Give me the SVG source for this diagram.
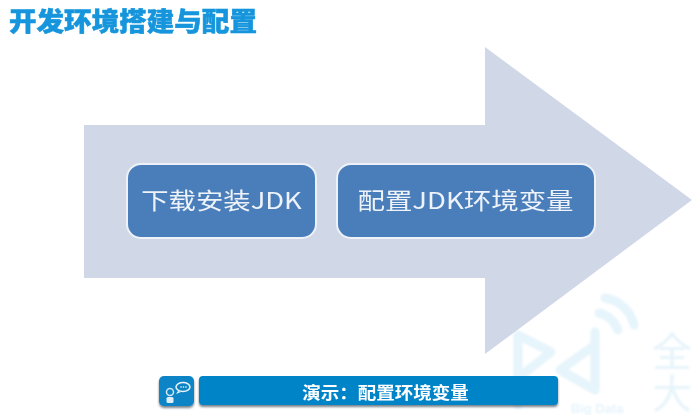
<svg xmlns="http://www.w3.org/2000/svg" width="692" height="415" viewBox="0 0 692 415">
<style>
text{font-family:"Noto Sans CJK SC","Liberation Sans",sans-serif}
.node{fill:#4a7ebb;stroke:#eef2f8;stroke-width:2}
.nt{font-size:23px;fill:#eef3f9;text-anchor:middle}
.wm{fill:none;stroke:#e6f4fb;stroke-width:9;stroke-linejoin:round;stroke-linecap:round}
.wt{fill:#e6f4fb;text-anchor:middle}
</style>
<defs>
<filter id="soft" x="-5%" y="-20%" width="110%" height="140%"><feGaussianBlur stdDeviation="0.5"/></filter>
<filter id="wmblur" x="-5%" y="-5%" width="110%" height="110%"><feGaussianBlur stdDeviation="0.8"/></filter>
<filter id="shadow" x="-5%" y="-20%" width="110%" height="150%"><feDropShadow dx="0" dy="2" stdDeviation="1.2" flood-color="#33424d" flood-opacity="0.65"/></filter>
</defs>
<rect width="692" height="415" fill="#ffffff"/>
<g id="watermark" filter="url(#wmblur)">
<path class="wm" d="M518 335L551 352L518 378Z M518 378V405"/>
<path class="wm" d="M595 332V390L560 370L595 345"/>
<path class="wm" d="M599 313C608 315 615 322 618 330M605 298C620 300 631 312 634 325"/>
<text class="wt" x="672" y="366" font-size="40">全</text>
<text class="wt" x="672" y="408" font-size="40">大</text>
<text class="wt" x="597" y="413" font-size="13" font-weight="700" style="font-family:'Liberation Sans',sans-serif">Big Data</text>
</g>
<g id="arrow"><polygon points="84,125 485,125 485,47 692,200 485,354 485,278 84,278" fill="#d0d8e8"/></g>
<g id="connectors"></g>
<g id="title" filter="url(#soft)"><text transform="translate(9 31) scale(1.06 1)" font-size="26" font-weight="900" fill="#1495dc" stroke="#1495dc" stroke-width="0.500">开发环境搭建与配置</text></g>
<g id="node-download">
<rect class="node" x="127" y="164" width="189" height="74" rx="14"/>
<text class="nt" transform="translate(221.500 209) scale(1.19 1)" filter="url(#soft)">下载安装JDK</text>
</g>
<g id="node-config">
<rect class="node" x="337" y="164" width="258" height="74" rx="14"/>
<text class="nt" transform="translate(465.500 209) scale(1.195 1)" filter="url(#soft)">配置JDK环境变量</text>
</g>
<g id="demo-icon">
<rect x="159" y="376" width="35" height="30" rx="5" fill="#0b84c6" filter="url(#shadow)"/>
<ellipse cx="183" cy="387" rx="7" ry="4.500" fill="#0b84c6" stroke="#eaf4fa" stroke-width="1.500"/>
<path d="M178 391l-2 3 5-2z" fill="#eaf4fa"/>
<circle cx="181" cy="387" r="0.800" fill="#fff"/><circle cx="183.500" cy="387" r="0.800" fill="#fff"/><circle cx="186" cy="387" r="0.800" fill="#fff"/>
<circle cx="170" cy="392" r="3.500" fill="none" stroke="#cfe6f3" stroke-width="1.500"/>
<rect x="166.500" y="397" width="7" height="6" rx="1.500" fill="#dfeef7"/>
</g>
<g id="demo-bar">
<rect x="199" y="376" width="359" height="29" rx="4" fill="#0584c8" filter="url(#shadow)"/>
<text transform="translate(385.500 399) scale(1.09 1)" font-size="17" font-weight="700" fill="#ffffff" text-anchor="middle" filter="url(#soft)">演示：配置环境变量</text>
</g>
</svg>
